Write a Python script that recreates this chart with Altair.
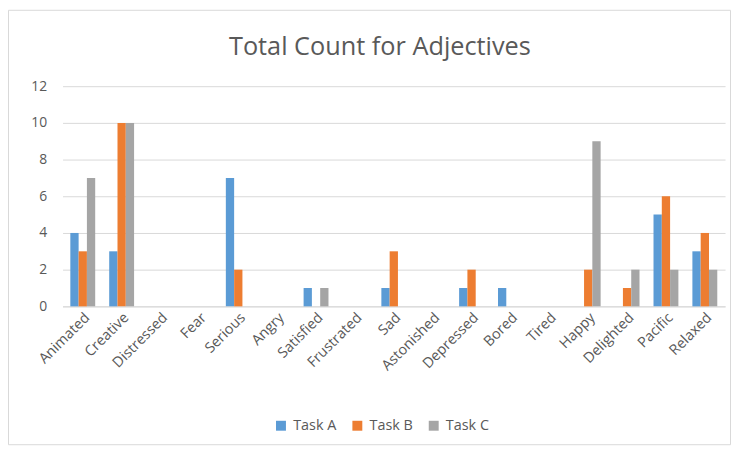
import altair as alt
import pandas as pd

categories = ["Animated", "Creative", "Distressed", "Fear", "Serious", "Angry", "Satisfied",
              "Frustrated", "Sad", "Astonished", "Depressed", "Bored", "Tired", "Happy",
              "Delighted", "Pacific", "Relaxed"]
task_a = [4, 3, 0, 0, 7, 0, 1, 0, 1, 0, 1, 1, 0, 0, 0, 5, 3]
task_b = [3, 10, 0, 0, 2, 0, 0, 0, 3, 0, 2, 0, 0, 2, 1, 6, 4]
task_c = [7, 10, 0, 0, 0, 0, 1, 0, 0, 0, 0, 0, 0, 9, 2, 2, 2]
series = ["Task A", "Task B", "Task C"]
colors = ["#5B9BD5", "#ED7D31", "#A5A5A5"]
title_text = "Total Count for Adjectives"

rows = []
for name, vals in zip(series, [task_a, task_b, task_c]):
    for c, v in zip(categories, vals):
        rows.append({"Adjective": c, "Task": name, "Count": v})
df = pd.DataFrame(rows)

W, H = 668, 222
FONT = "Open Sans"

bars = alt.Chart(df).mark_bar().encode(
    x=alt.X("Adjective:N", sort=categories,
            scale=alt.Scale(paddingInner=0.36, paddingOuter=0.2),
            axis=alt.Axis(title=None, labelAngle=-45, labelAlign="right", labelBaseline="top",
                          labelFontSize=14.5, labelColor="#595959", labelFont=FONT,
                          ticks=False, domainColor="#d9d9d9", labelPadding=4)),
    xOffset=alt.XOffset("Task:N", sort=series),
    y=alt.Y("Count:Q", scale=alt.Scale(domain=[0, 12]),
            axis=alt.Axis(title=None, values=[0, 2, 4, 6, 8, 10, 12], domain=False, ticks=False,
                          labelFontSize=14, labelColor="#595959", labelFont=FONT,
                          gridColor="#d9d9d9", labelPadding=16)),
    color=alt.Color("Task:N", sort=series,
                    scale=alt.Scale(domain=series, range=colors),
                    legend=alt.Legend(title=None, orient="none", direction="horizontal",
                                      legendX=213, legendY=335, symbolType="square",
                                      symbolSize=100, symbolStrokeWidth=0,
                                      labelFontSize=14.5, labelColor="#595959", labelFont=FONT,
                                      columnPadding=13, labelOffset=5)),
)

one = pd.DataFrame({"t": [title_text]})
border = alt.Chart(one).mark_rect(
    fill=None, stroke="#d9d9d9", strokeWidth=1
).encode(x=alt.value(-54.5), x2=alt.value(673.5), y=alt.value(-76.5), y2=alt.value(361.5))

title = alt.Chart(one).mark_text(
    font=FONT, fontSize=25.5, color="#595959", align="center", baseline="alphabetic"
).encode(text="t:N", x=alt.value(320), y=alt.value(-31))

chart = alt.layer(border, title, bars).properties(
    width=W, height=H,
    autosize=alt.AutoSizeParams(type="none"),
    padding={"left": 55, "top": 77, "right": 6, "bottom": 142},
).configure_view(stroke=None)

chart.save("out.html", embed_options={"renderer": "svg", "actions": False})
